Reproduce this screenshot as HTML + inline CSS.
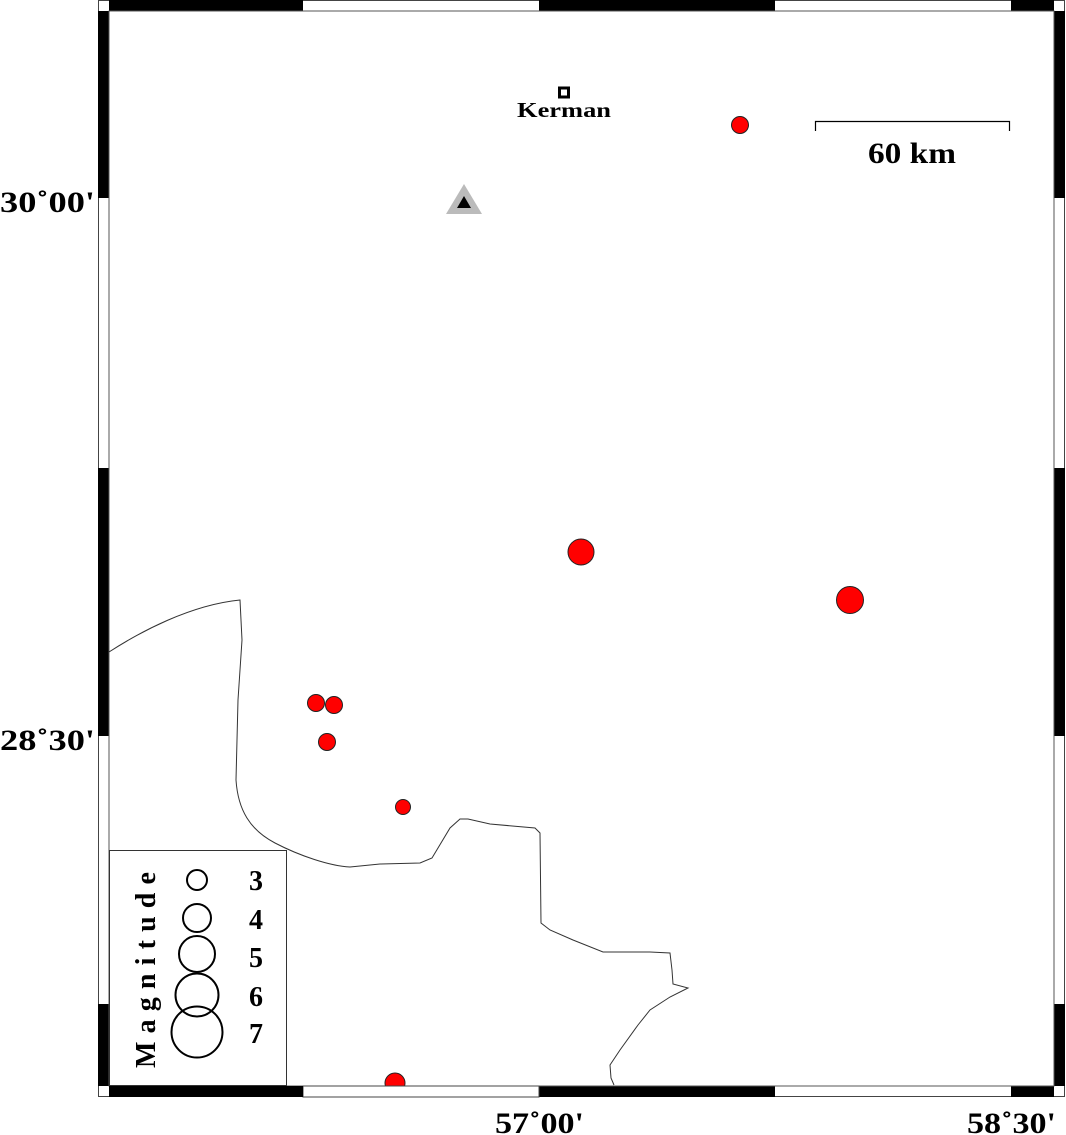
<!DOCTYPE html>
<html><head><meta charset="utf-8"><style>
html,body{margin:0;padding:0;background:#fff;}
svg{display:block;}
text{font-family:"Liberation Serif",serif;font-weight:bold;fill:#000;}
</style></head><body>
<svg width="1066" height="1135" viewBox="0 0 1066 1135" xmlns="http://www.w3.org/2000/svg">
<rect width="1066" height="1135" fill="#fff"/>
<rect x="98.5" y="0.5" width="966" height="1096" fill="#fff" stroke="#444" stroke-width="1"/>
<rect x="109" y="0" width="194" height="11" fill="#000"/>
<rect x="539" y="0" width="236" height="11" fill="#000"/>
<rect x="1011" y="0" width="43" height="11" fill="#000"/>
<rect x="109" y="1086" width="194" height="11" fill="#000"/>
<rect x="539" y="1086" width="236" height="11" fill="#000"/>
<rect x="1011" y="1086" width="43" height="11" fill="#000"/>
<rect x="98" y="11" width="11" height="187" fill="#000"/>
<rect x="98" y="468" width="11" height="268" fill="#000"/>
<rect x="98" y="1004" width="11" height="82" fill="#000"/>
<rect x="1054" y="11" width="11" height="187" fill="#000"/>
<rect x="1054" y="468" width="11" height="268" fill="#000"/>
<rect x="1054" y="1004" width="11" height="82" fill="#000"/>
<rect x="109" y="11" width="945" height="1075" fill="none" stroke="#555" stroke-width="1"/>

<path d="M109,652 C140,632 190,605 240,600 L242,640 L238,700 L236,780 C238,810 250,830 275,843 C300,856 330,866 350,867 L380,864 L420,863 L432,858 L450,828 L460,819 L468,819 L490,824 L535,828 L540,833 L541,923 L550,930 L573,940 L603,952 L650,952 L670,953 L672,970 L673,984 L688,988 L670,997 L650,1010 L638,1025 L620,1050 L610,1065 L611,1078 L614,1085" fill="none" stroke="#333" stroke-width="1"/>

<rect x="109.5" y="850.5" width="177" height="235" fill="#fff" stroke="#333" stroke-width="1"/>
<text transform="translate(155,1068) rotate(-90)" font-size="28" textLength="196" lengthAdjust="spacing">Magnitude</text>
<g fill="none" stroke="#000" stroke-width="2">
<circle cx="197" cy="880" r="10"/>
<circle cx="197" cy="918" r="14"/>
<circle cx="197" cy="954" r="18"/>
<circle cx="197" cy="995" r="21.5"/>
<circle cx="197" cy="1032" r="25.5"/>
</g>
<g font-size="28">
<text x="249" y="890">3</text>
<text x="249" y="929">4</text>
<text x="249" y="967">5</text>
<text x="249" y="1006">6</text>
<text x="249" y="1043">7</text>
</g>

<g fill="#f00" stroke="#222" stroke-width="1">
<circle cx="740" cy="125" r="8.5"/>
<circle cx="581" cy="552" r="13"/>
<circle cx="850" cy="600" r="13.5"/>
<circle cx="316" cy="703" r="8.5"/>
<circle cx="334" cy="705" r="8.5"/>
<circle cx="327" cy="742" r="8.5"/>
<circle cx="403" cy="807" r="7.5"/>
<circle cx="395" cy="1083" r="10"/>
</g>
<rect x="303" y="1086" width="236" height="11" fill="#fff" stroke="#444" stroke-width="1"/>
<rect x="109" y="1086" width="194" height="11" fill="#000"/>

<rect x="559.5" y="88" width="9" height="9" fill="#fff" stroke="#000" stroke-width="3"/>
<text x="517" y="117" font-size="21" textLength="94" lengthAdjust="spacingAndGlyphs">Kerman</text>

<polygon points="464,184 446,214 482,214" fill="#bbb"/>
<polygon points="464,196 457,208 471,208" fill="#000"/>

<path d="M815.5,131 V121.5 H1009.5 V131" fill="none" stroke="#000" stroke-width="1.2"/>
<text x="868" y="163" font-size="30" textLength="88" lengthAdjust="spacingAndGlyphs">60 km</text>

<text x="0" y="212" font-size="30" textLength="95" lengthAdjust="spacingAndGlyphs">30˚00'</text>
<text x="0" y="750" font-size="30" textLength="95" lengthAdjust="spacingAndGlyphs">28˚30'</text>
<text x="495" y="1133" font-size="30" textLength="89" lengthAdjust="spacingAndGlyphs">57˚00'</text>
<text x="967" y="1133" font-size="30" textLength="89" lengthAdjust="spacingAndGlyphs">58˚30'</text>
</svg>
</body></html>
